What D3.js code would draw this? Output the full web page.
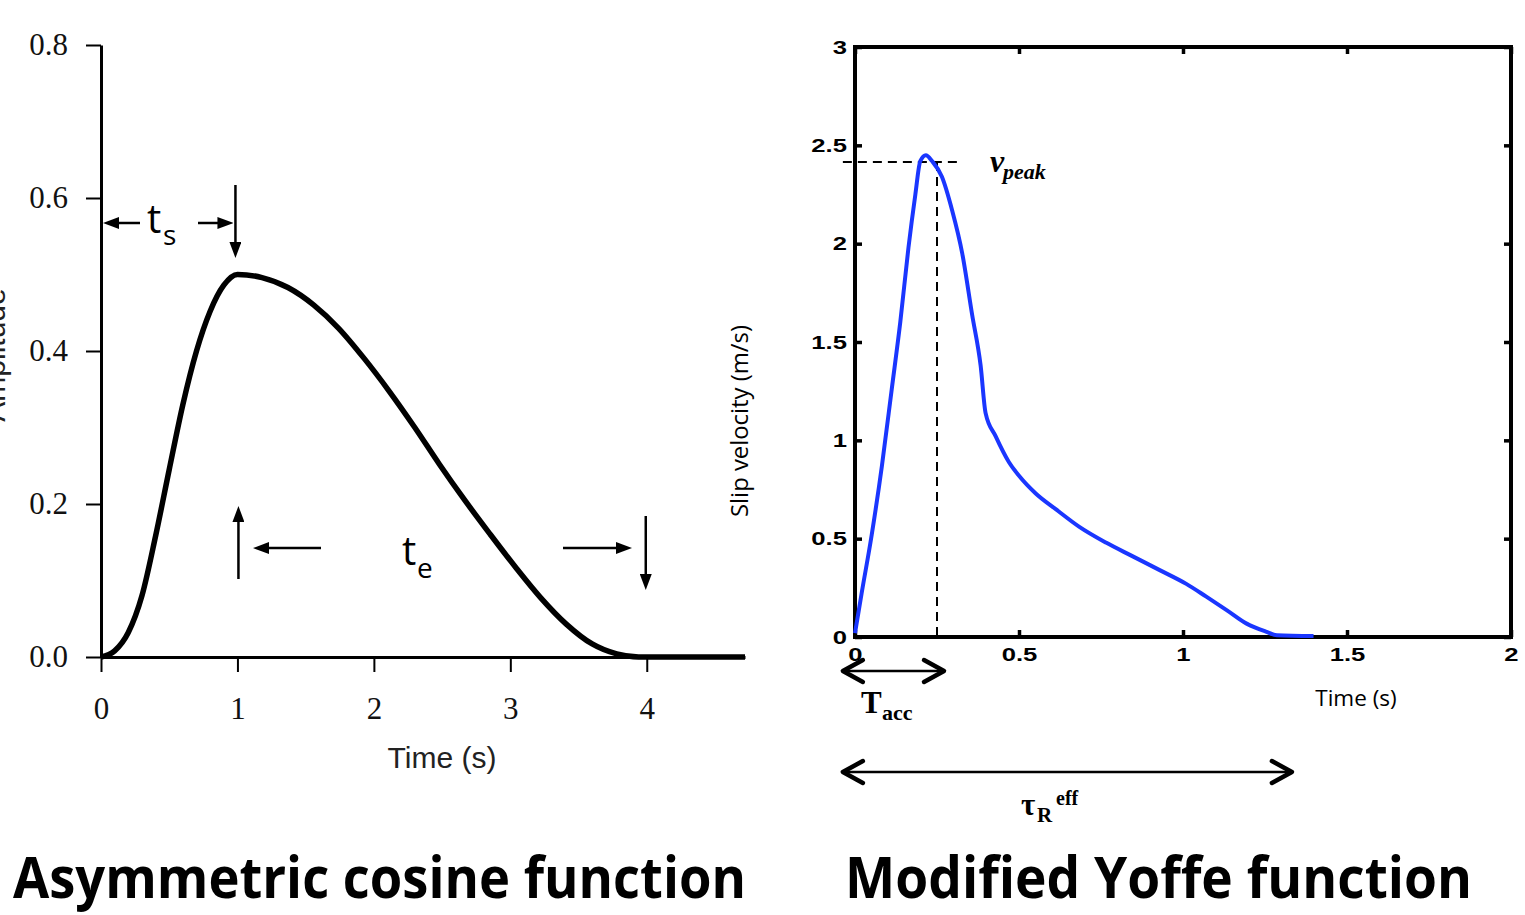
<!DOCTYPE html>
<html>
<head>
<meta charset="utf-8">
<script src="https://cdn.jsdelivr.net/npm/d3@7"></script>
<style>
body { margin: 0; background: white; overflow: hidden; }
</style>
</head>
<body>
<script>
//Asymmetric cosine (left panel)
var cosTime = [0, 0.1, 0.2, 0.3, 0.4, 0.5, 0.6, 0.7, 0.8, 0.9, 1.0, 1.18, 1.37, 1.56, 1.74, 1.93, 2.11, 2.30, 2.48, 2.67, 2.85, 3.04, 3.22, 3.41, 3.60, 3.78, 3.94, 4.2, 4.72];
var cosAmp = [0, 0.008, 0.032, 0.08, 0.158, 0.245, 0.33, 0.40, 0.452, 0.486, 0.50, 0.496, 0.483, 0.46, 0.43, 0.39, 0.348, 0.30, 0.252, 0.204, 0.161, 0.117, 0.078, 0.043, 0.017, 0.004, 0, 0, 0];
var cosXTicks = [0, 1, 2, 3, 4];
var cosYTicks = [0, 0.2, 0.4, 0.6, 0.8];

//Modified Yoffe (right panel)
var yoffeTime = [0, 0.02, 0.051, 0.082, 0.112, 0.138, 0.163, 0.184, 0.199, 0.216, 0.235, 0.265, 0.296, 0.327, 0.357, 0.383, 0.398, 0.429, 0.469, 0.5, 0.551, 0.612, 0.684, 0.765, 0.847, 0.929, 1.01, 1.071, 1.133, 1.194, 1.255, 1.286, 1.398];
var yoffeVel = [0.02, 0.22, 0.52, 0.87, 1.26, 1.6, 1.98, 2.25, 2.42, 2.45, 2.42, 2.34, 2.17, 1.95, 1.64, 1.38, 1.14, 1.02, 0.89, 0.82, 0.73, 0.65, 0.56, 0.48, 0.41, 0.34, 0.27, 0.205, 0.137, 0.068, 0.026, 0.009, 0.005];
var yoffeXTicks = [0, 0.5, 1, 1.5, 2];
var yoffeYTicks = [0, 0.5, 1, 1.5, 2, 2.5, 3];

//Annotation values
var vPeak = 2.415;
var tAcc = 0.25;
var tauEff = 1.332;
var arrowStart = -0.037;

//Parameters
var w = 1525;
var h = 915;
var blue = "#1a36ff";

var svg = d3.select("body").append("svg")
    .attr("width", w)
    .attr("height", h);

//Filled arrow head for the left panel
svg.append("defs").append("marker")
    .attr("id", "head")
    .attr("viewBox", "0 0 16 12")
    .attr("markerUnits", "userSpaceOnUse")
    .attr("markerWidth", 16)
    .attr("markerHeight", 12)
    .attr("refX", 4)
    .attr("refY", 6)
    .attr("orient", "auto")
    .append("path")
    .attr("d", "M0,0 L16,6 L0,12 Z")
    .attr("fill", "black");

function arrow(xa, ya, xb, yb) {
    var dx = xb - xa, dy = yb - ya, len = Math.sqrt(dx * dx + dy * dy);
    svg.append("line")
        .attr("x1", xa).attr("y1", ya)
        .attr("x2", xb - dx / len * 12).attr("y2", yb - dy / len * 12)
        .attr("stroke", "black")
        .attr("stroke-width", 2.5)
        .attr("marker-end", "url(#head)");
}

//Double arrow with open chevrons for the right panel
function doubleArrow(xa, xb, y) {
    svg.append("line")
        .attr("x1", xa + 2).attr("y1", y).attr("x2", xb - 2).attr("y2", y)
        .attr("stroke", "black").attr("stroke-width", 2.5);
    svg.append("path")
        .attr("d", "M" + (xa + 20) + "," + (y - 11) + " L" + xa + "," + y + " L" + (xa + 20) + "," + (y + 11) +
            " M" + (xb - 20) + "," + (y - 11) + " L" + xb + "," + y + " L" + (xb - 20) + "," + (y + 11))
        .attr("fill", "none").attr("stroke", "black")
        .attr("stroke-width", 4.5)
        .attr("stroke-linecap", "round")
        .attr("stroke-linejoin", "round");
}

function label(x, y, str, size, font, weight, style) {
    return svg.append("text")
        .attr("x", x).attr("y", y)
        .style("font-family", font)
        .style("font-size", size + "px")
        .style("font-weight", weight || "normal")
        .style("font-style", style || "normal")
        .text(str);
}

//==== Left panel ====
var x1 = d3.scaleLinear().domain([0, 4.72]).range([101, 745]);
var y1 = d3.scaleLinear().domain([0, 0.8]).range([657, 45]);

var gx1 = svg.append("g")
    .attr("transform", "translate(0," + y1(0) + ")")
    .call(d3.axisBottom(x1).tickValues(cosXTicks).tickSize(15).tickSizeOuter(0).tickPadding(25).tickFormat(d3.format("d")));

var gy1 = svg.append("g")
    .attr("transform", "translate(" + x1(0) + ",0)")
    .call(d3.axisLeft(y1).tickValues(cosYTicks).tickSize(15).tickSizeOuter(0).tickPadding(18).tickFormat(d3.format(".1f")));

[gx1, gy1].forEach(function (g) {
    g.select(".domain").attr("stroke-width", 3);
    g.selectAll(".tick line").attr("stroke-width", 2);
    g.selectAll(".tick text")
        .style("font-family", "'Liberation Serif', serif")
        .style("font-size", "31px")
        .attr("fill", "#111");
});

label(442, 768, "Time (s)", 30, "'Liberation Sans', Arial, sans-serif")
    .attr("text-anchor", "middle").attr("fill", "#222");

label(0, 0, "Amplitude", 30, "'Liberation Sans', Arial, sans-serif")
    .attr("text-anchor", "middle")
    .attr("transform", "translate(5,355) rotate(-90)")
    .attr("fill", "#222");

var line1 = d3.line()
    .x(function (d, i) { return x1(cosTime[i]); })
    .y(function (d) { return y1(d); })
    .curve(d3.curveMonotoneX);

svg.append("path")
    .attr("d", line1(cosAmp))
    .attr("fill", "none")
    .attr("stroke", "black")
    .attr("stroke-width", 5.5)
    .attr("stroke-linejoin", "round");

//t_s marks
arrow(140, 223, x1(0) + 2, 223);
arrow(198, 223, x1(1) - 4, 223);
arrow(x1(1) - 2, 185, x1(1) - 2, 258);
label(147, 233, "t", 40, "'Open Sans', sans-serif");
label(163, 245, "s", 28, "'Open Sans', sans-serif");

//t_e marks
arrow(x1(1) + 1, 579, x1(1) + 1, 506);
arrow(321, 548, 253, 548);
arrow(563, 548, 632, 548);
arrow(x1(4) - 1, 516, x1(4) - 1, 590);
label(402, 565, "t", 40, "'Open Sans', sans-serif");
label(417, 578, "e", 28, "'Open Sans', sans-serif");

//==== Right panel ====
var x2 = d3.scaleLinear().domain([0, 2]).range([855, 1511]);
var y2 = d3.scaleLinear().domain([0, 3]).range([637, 47]);

var tickScale = 1.35;

var gx2 = svg.append("g")
    .attr("transform", "translate(0," + y2(0) + ")")
    .call(d3.axisBottom(x2).tickValues(yoffeXTicks).tickSize(-7).tickSizeOuter(0).tickPadding(11).tickFormat(d3.format("")));
var gy2 = svg.append("g")
    .attr("transform", "translate(" + x2(0) + ",0)")
    .call(d3.axisLeft(y2).tickValues(yoffeYTicks).tickSize(-7).tickSizeOuter(0).tickPadding(6).tickFormat(d3.format("")));
var gt2 = svg.append("g")
    .attr("transform", "translate(0," + y2(3) + ")")
    .call(d3.axisTop(x2).tickValues(yoffeXTicks).tickSize(-7).tickSizeOuter(0).tickFormat(""));
var gr2 = svg.append("g")
    .attr("transform", "translate(" + x2(2) + ",0)")
    .call(d3.axisRight(y2).tickValues(yoffeYTicks).tickSize(-7).tickSizeOuter(0).tickFormat(""));

[gx2, gy2, gt2, gr2].forEach(function (g) {
    g.select(".domain").remove();
    g.selectAll(".tick line").attr("stroke-width", 3.5);
    g.selectAll(".tick text")
        .style("font-family", "'Liberation Sans', Arial, sans-serif")
        .style("font-size", "19px")
        .style("font-weight", "bold")
        .attr("transform", "scale(" + tickScale + ",1)");
});

svg.append("rect")
    .attr("x", x2(0)).attr("y", y2(3))
    .attr("width", x2(2) - x2(0)).attr("height", y2(0) - y2(3))
    .attr("fill", "none")
    .attr("stroke", "black")
    .attr("stroke-width", 4);

//Dashed peak guides
svg.append("line")
    .attr("x1", x2(arrowStart)).attr("y1", y2(vPeak))
    .attr("x2", x2(0.315)).attr("y2", y2(vPeak))
    .attr("stroke", "black").attr("stroke-width", 2).attr("stroke-dasharray", "9,6");
svg.append("line")
    .attr("x1", x2(tAcc)).attr("y1", y2(vPeak))
    .attr("x2", x2(tAcc)).attr("y2", y2(0))
    .attr("stroke", "black").attr("stroke-width", 2).attr("stroke-dasharray", "9,6");

var line2 = d3.line()
    .x(function (d, i) { return x2(yoffeTime[i]); })
    .y(function (d) { return y2(d); })
    .curve(d3.curveMonotoneX);

svg.append("path")
    .attr("d", line2(yoffeVel))
    .attr("fill", "none")
    .attr("stroke", blue)
    .attr("stroke-width", 4)
    .attr("stroke-linejoin", "round");

label(0, 0, "Slip velocity (m/s)", 23, "'Open Sans', sans-serif")
    .attr("text-anchor", "middle")
    .attr("textLength", 192).attr("lengthAdjust", "spacingAndGlyphs")
    .attr("transform", "translate(748,421) rotate(-90)");
label(1356, 706, "Time (s)", 22.5, "'Open Sans', sans-serif")
    .attr("text-anchor", "middle");

//v_peak
label(990, 172, "v", 32, "'Liberation Serif', serif", "bold", "italic");
label(1003, 179, "peak", 22, "'Liberation Serif', serif", "bold", "italic");

//T_acc
doubleArrow(x2(arrowStart), x2(tAcc) + 7, 671);
label(861, 713, "T", 31, "'Liberation Serif', serif", "bold");
label(882, 720, "acc", 22, "'Liberation Serif', serif", "bold");

//tau_R^eff
doubleArrow(x2(arrowStart), x2(tauEff), 772);
label(1021, 815, "\u03C4", 31, "'Liberation Serif', serif", "bold");
label(1037, 822, "R", 21, "'Liberation Serif', serif", "bold");
label(1056, 805, "eff", 20, "'Liberation Serif', serif", "bold");

//Titles
label(13, 898, "Asymmetric cosine function", 58, "'Open Sans', sans-serif", "bold")
    .attr("textLength", 733).attr("lengthAdjust", "spacingAndGlyphs");
label(845, 898, "Modified Yoffe function", 58, "'Open Sans', sans-serif", "bold")
    .attr("textLength", 627).attr("lengthAdjust", "spacingAndGlyphs");
</script>
</body>
</html>
